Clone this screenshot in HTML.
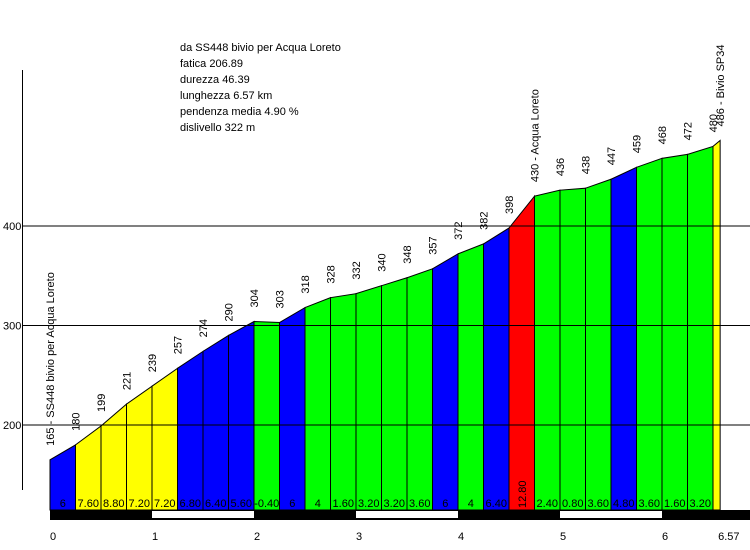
<!DOCTYPE html>
<html><head><meta charset="utf-8"><style>
body{margin:0;background:#fff;}
svg{display:block;font-family:"Liberation Sans",sans-serif;}
</style></head><body>
<svg id="c" width="750" height="550">
<g font-size="11" fill="#000">
<text x="180" y="51">da SS448 bivio per Acqua Loreto</text>
<text x="180" y="67">fatica 206.89</text>
<text x="180" y="83">durezza 46.39</text>
<text x="180" y="99">lunghezza 6.57 km</text>
<text x="180" y="115">pendenza media 4.90 %</text>
<text x="180" y="131">dislivello 322 m</text>
</g>
</svg>
<script>
const distances=[0,0.25,0.5,0.75,1,1.25,1.5,1.75,2,2.25,2.5,2.75,3,3.25,3.5,3.75,4,4.25,4.5,4.75,5,5.25,5.5,5.75,6,6.25,6.5,6.57];
const elevations=[165,180,199,221,239,257,274,290,304,303,318,328,332,340,348,357,372,382,398,430,436,438,447,459,468,472,480,486];
const gradients=["6","7.60","8.80","7.20","7.20","6.80","6.40","5.60","-0.40","6","4","1.60","3.20","3.20","3.60","6","4","6.40","12.80","2.40","0.80","3.60","4.80","3.60","1.60","3.20",""];
const gradientValues=[6,7.6,8.8,7.2,7.2,6.8,6.4,5.6,-0.4,6,4,1.6,3.2,3.2,3.6,6,4,6.4,12.8,2.4,0.8,3.6,4.8,3.6,1.6,3.2,8.57];
const yTicks=[200,300,400];
const xTicks=["0","1","2","3","4","5","6","6.57"];
const xTickVals=[0,1,2,3,4,5,6,6.57];
const startLabel="165 - SS448 bivio per Acqua Loreto";
const namedPoints={19:"430 - Acqua Loreto",27:"486 - Bivio SP34"};

const NS="http://www.w3.org/2000/svg";
const svg=document.getElementById('c');
const X=d=>50+d*102;
const Y=v=>226-(v-400)*0.995;
const BASE=510;
function mk(t,a,p){const e=document.createElementNS(NS,t);for(const k in a)e.setAttribute(k,a[k]);(p||svg).appendChild(e);return e;}
function color(g){return g>=10?"#ff0000":g>=7?"#ffff00":g>=4.5?"#0000ff":"#00ff00";}

for(let i=0;i<gradientValues.length;i++){
  const x1=X(distances[i]),x2=X(distances[i+1]);
  const p=mk('polygon',{points:`${x1},${BASE} ${x1},${Y(elevations[i])} ${x2},${Y(elevations[i+1])} ${x2},${BASE}`,fill:color(gradientValues[i]),stroke:"#000","stroke-width":1});
  
  
  if(gradients[i]){
    const cx=(x1+x2)/2;
    if(gradientValues[i]>=10){
      const t=mk('text',{x:cx,y:504,"font-size":11,transform:`rotate(-90 ${cx+4} 504)`,"text-anchor":"start"});
      t.textContent=gradients[i];
      
      
    }else{
      const t=mk('text',{x:cx,y:507,"font-size":11,"text-anchor":"middle"});
      t.textContent=gradients[i];
      
      
    }
  }
}
// grid
for(const v of yTicks){
  const l=mk('line',{x1:22,x2:750,y1:Y(v),y2:Y(v),stroke:"#000","stroke-width":1});
  
  
  const t=mk('text',{x:3,y:Y(v)+4,"font-size":11});
  t.textContent=v;
  
  
}
const ax=mk('line',{x1:22.5,x2:22.5,y1:70,y2:490,stroke:"#000"});


// point labels
for(let i=0;i<elevations.length;i++){
  const x=X(distances[i])+4, y=Y(elevations[i])-14;
  const txt=i===0?startLabel:(namedPoints[i]||String(elevations[i]));
  const t=mk('text',{x:x,y:y,"font-size":11,transform:`rotate(-90 ${x} ${y})`});
  t.textContent=txt;
  
  
}
// km bar
const bar=mk('rect',{x:50,y:510,width:700,height:10,fill:"#000"});


for(const k of [1,3,5]){
  const r=mk('rect',{x:X(k),y:511,width:102,height:7,fill:"#fff"});
  
  
}
for(let i=0;i<xTicks.length;i++){
  const t=mk('text',{x:X(xTickVals[i])+(i===xTicks.length-1?-2:0),y:540,"font-size":11});
  t.textContent=xTicks[i];
  
  
}
</script>
</body></html>
